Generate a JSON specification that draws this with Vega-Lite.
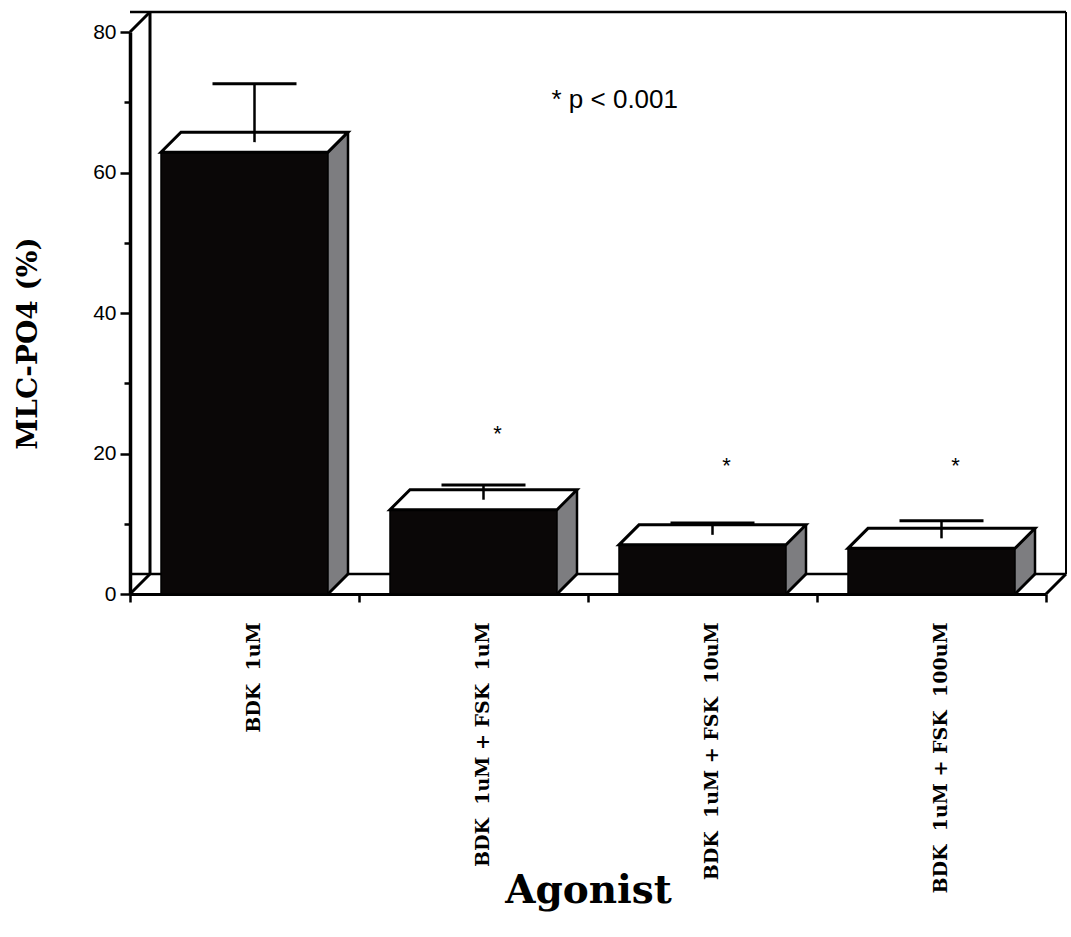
{
  "$schema": "https://vega.github.io/schema/vega-lite/v6.json",
  "width": 916,
  "height": 562,
  "autosize": {"type": "none"},
  "padding": {"left": 130, "top": 32, "right": 25, "bottom": 343},
  "background": "white",
  "config": {
    "view": {"stroke": null},
    "axis": {"grid": false, "domainColor": "black", "tickColor": "black", "labelColor": "black", "titleColor": "black"},
    "axisX": {
      "tickBand": "extent", "tickSize": 8, "tickWidth": 2.5, "domainWidth": 3,
      "labelAngle": -90, "labelFont": "DejaVu Serif", "labelFontWeight": "bold", "labelFontSize": 19,
      "labelPadding": 20, "labelOffset": 9, "labelLimit": 600, "labelAlign": "right", "labelBaseline": "middle",
      "titleFont": "DejaVu Serif", "titleFontSize": 39, "titleFontWeight": "bold", "titleY": 296, "titleBaseline": "middle"
    },
    "axisY": {
      "tickWidth": 2.5, "domainWidth": 3.5,
      "labelFont": "Liberation Sans", "labelFontSize": 21, "labelPadding": 4,
      "titleFont": "DejaVu Serif", "titleFontSize": 28, "titleFontWeight": "bold",
      "titleX": -102, "titleY": 311, "titleBaseline": "middle", "titleAlign": "center", "titleAngle": -90
    }
  },
  "datasets": {
    "bars": [
      {"agonist": "BDK  1uM", "mean": 62.9, "upper": 71.2, "star": null},
      {"agonist": "BDK  1uM + FSK  1uM", "mean": 12.0, "upper": 14.1, "star": 21.8},
      {"agonist": "BDK  1uM + FSK  10uM", "mean": 7.0, "upper": 8.7, "star": 17.2},
      {"agonist": "BDK  1uM + FSK  100uM", "mean": 6.5, "upper": 9.0, "star": 17.2}
    ],
    "note": [{"agonist": "BDK  1uM + FSK  1uM", "y": 69.2, "text": "* p < 0.001"}],
    "frame": [{"first": "BDK  1uM", "last": "BDK  1uM + FSK  100uM", "bottom": 0, "top": 80}]
  },
  "layer": [
    {
      "data": {"name": "frame"},
      "mark": {"type": "rule", "color": "black", "strokeWidth": 2.5, "xOffset": 20, "x2Offset": 20, "yOffset": -20},
      "encoding": {"y": {"field": "bottom", "type": "quantitative"}}
    },
    {
      "data": {"name": "frame"},
      "mark": {"type": "rule", "color": "black", "strokeWidth": 2.5, "xOffset": 20, "x2Offset": 20, "yOffset": -20},
      "encoding": {"y": {"field": "top", "type": "quantitative"}}
    },
    {
      "data": {"name": "frame"},
      "mark": {"type": "rule", "color": "black", "strokeWidth": 3, "xOffset": -94.5, "yOffset": -20, "y2Offset": -20},
      "encoding": {
        "x": {"field": "first", "type": "nominal", "scale": {"domain": ["BDK  1uM", "BDK  1uM + FSK  1uM", "BDK  1uM + FSK  10uM", "BDK  1uM + FSK  100uM"]}},
        "y": {"field": "bottom", "type": "quantitative"},
        "y2": {"field": "top"}
      }
    },
    {
      "data": {"name": "frame"},
      "mark": {"type": "rule", "color": "black", "strokeWidth": 2, "xOffset": 134.5, "yOffset": -20, "y2Offset": -20},
      "encoding": {
        "x": {"field": "last", "type": "nominal", "scale": {"domain": ["BDK  1uM", "BDK  1uM + FSK  1uM", "BDK  1uM + FSK  10uM", "BDK  1uM + FSK  100uM"]}},
        "y": {"field": "bottom", "type": "quantitative"},
        "y2": {"field": "top"}
      }
    },
    {
      "data": {"name": "frame"},
      "mark": {"type": "point", "shape": "M-114.5,0L-94.5,-20", "size": 4, "filled": false, "stroke": "black", "strokeWidth": 3, "opacity": 1},
      "encoding": {
        "x": {"field": "first", "type": "nominal", "scale": {"domain": ["BDK  1uM", "BDK  1uM + FSK  1uM", "BDK  1uM + FSK  10uM", "BDK  1uM + FSK  100uM"]}},
        "y": {"field": "top", "type": "quantitative"}
      }
    },
    {
      "data": {"name": "frame"},
      "mark": {"type": "point", "shape": "M-114.5,0L-94.5,-20", "size": 4, "filled": false, "stroke": "black", "strokeWidth": 3, "opacity": 1},
      "encoding": {
        "x": {"field": "first", "type": "nominal", "scale": {"domain": ["BDK  1uM", "BDK  1uM + FSK  1uM", "BDK  1uM + FSK  10uM", "BDK  1uM + FSK  100uM"]}},
        "y": {"field": "bottom", "type": "quantitative"}
      }
    },
    {
      "data": {"name": "frame"},
      "mark": {"type": "point", "shape": "M114.5,0L134.5,-20", "size": 4, "filled": false, "stroke": "black", "strokeWidth": 3, "opacity": 1},
      "encoding": {
        "x": {"field": "last", "type": "nominal", "scale": {"domain": ["BDK  1uM", "BDK  1uM + FSK  1uM", "BDK  1uM + FSK  10uM", "BDK  1uM + FSK  100uM"]}},
        "y": {"field": "bottom", "type": "quantitative"}
      }
    },
    {
      "data": {"name": "bars"},
      "mark": {"type": "bar", "width": 20, "color": "#7d7d80", "xOffset": 93.5, "yOffset": -20, "y2Offset": -20},
      "encoding": {
        "x": {"field": "agonist", "type": "nominal", "sort": null, "scale": {"domain": ["BDK  1uM", "BDK  1uM + FSK  1uM", "BDK  1uM + FSK  10uM", "BDK  1uM + FSK  100uM"]}},
        "y": {"field": "mean", "type": "quantitative"}
      }
    },
    {
      "data": {"name": "bars"},
      "mark": {"type": "point", "shape": "M83.5,0L103.5,-20L83.5,-20Z", "size": 4, "filled": true, "fill": "#7d7d80", "strokeWidth": 0, "opacity": 1},
      "encoding": {
        "x": {"field": "agonist", "type": "nominal", "sort": null},
        "y": {"datum": 0, "type": "quantitative"}
      }
    },
    {
      "data": {"name": "bars"},
      "mark": {"type": "rule", "color": "black", "strokeWidth": 2.5, "xOffset": 103.5, "yOffset": -20, "y2Offset": -20},
      "encoding": {
        "x": {"field": "agonist", "type": "nominal", "sort": null},
        "y": {"field": "mean", "type": "quantitative"},
        "y2": {"datum": 0}
      }
    },
    {
      "data": {"name": "bars"},
      "mark": {"type": "point", "shape": "M83.5,0L103.5,-20", "size": 4, "filled": false, "stroke": "black", "strokeWidth": 3, "opacity": 1},
      "encoding": {
        "x": {"field": "agonist", "type": "nominal", "sort": null},
        "y": {"datum": 0, "type": "quantitative"}
      }
    },
    {
      "data": {"name": "bars"},
      "mark": {"type": "bar", "width": 167, "color": "#0a0707", "stroke": "black", "strokeWidth": 1.5},
      "encoding": {
        "x": {
          "field": "agonist", "type": "nominal", "sort": null,
          "scale": {"domain": ["BDK  1uM", "BDK  1uM + FSK  1uM", "BDK  1uM + FSK  10uM", "BDK  1uM + FSK  100uM"], "paddingInner": 0, "paddingOuter": 0},
          "axis": {"title": "Agonist", "labelExpr": "replace(datum.label, /  /g, '\u00a0\u00a0')"}
        },
        "y": {
          "field": "mean", "type": "quantitative",
          "scale": {"domain": [0, 80]},
          "axis": {
            "title": "MLC-PO4 (%)",
            "values": [0, 10, 20, 30, 40, 50, 60, 70, 80],
            "labelExpr": "datum.value % 20 === 0 ? datum.label : ''",
            "tickSize": {"condition": {"test": "datum.value % 20 === 0", "value": 10}, "value": 6}
          }
        }
      }
    },
    {
      "data": {"name": "bars"},
      "mark": {"type": "point", "shape": "M-83.5,0L83.5,0L103.5,-20L-63.5,-20Z", "size": 4, "filled": true, "fill": "white", "stroke": "black", "strokeWidth": 3, "opacity": 1},
      "encoding": {
        "x": {"field": "agonist", "type": "nominal", "sort": null},
        "y": {"field": "mean", "type": "quantitative"}
      }
    },
    {
      "data": {"name": "bars"},
      "mark": {"type": "rule", "color": "black", "strokeWidth": 2.5, "xOffset": 10, "yOffset": -10, "y2Offset": -10},
      "encoding": {
        "x": {"field": "agonist", "type": "nominal", "sort": null},
        "y": {"field": "mean", "type": "quantitative"},
        "y2": {"field": "upper"}
      }
    },
    {
      "data": {"name": "bars"},
      "mark": {"type": "tick", "color": "black", "size": 84, "thickness": 3, "opacity": 1, "xOffset": 10, "yOffset": -10},
      "encoding": {
        "x": {"field": "agonist", "type": "nominal", "sort": null},
        "y": {"field": "upper", "type": "quantitative"}
      }
    },
    {
      "data": {"name": "bars"},
      "mark": {"type": "text", "text": "*", "font": "Liberation Sans", "fontSize": 22, "color": "black", "dx": 24, "align": "center", "baseline": "alphabetic"},
      "encoding": {
        "x": {"field": "agonist", "type": "nominal", "sort": null},
        "y": {"field": "star", "type": "quantitative"}
      }
    },
    {
      "data": {"name": "note"},
      "mark": {"type": "text", "font": "Liberation Sans", "fontSize": 26, "color": "black", "dx": 78, "align": "left", "baseline": "alphabetic"},
      "encoding": {
        "x": {"field": "agonist", "type": "nominal"},
        "y": {"field": "y", "type": "quantitative"},
        "text": {"field": "text"}
      }
    }
  ]
}
